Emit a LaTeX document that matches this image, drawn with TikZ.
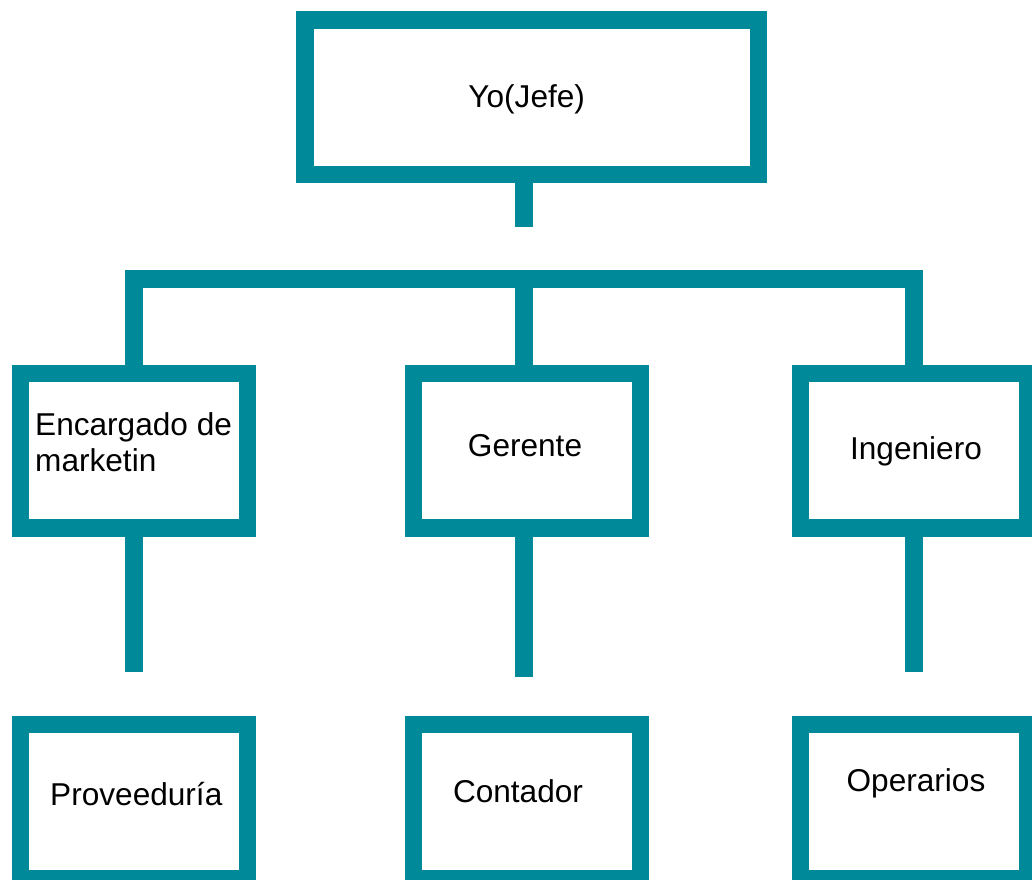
\documentclass[tikz,border=0pt]{standalone}
\usepackage{fontspec}
\setmainfont{Liberation Sans}
\definecolor{orgteal}{RGB}{0,138,153}
\begin{document}
\begin{tikzpicture}[x=1pt,y=-1pt,
  box/.style={draw=orgteal, line width=17.5pt, rectangle, inner sep=0pt,
    minimum width=226.75pt, minimum height=154.5pt, fill=white},
  conn/.style={draw=orgteal, line width=17.5pt, line cap=butt, line join=miter},
  lbl/.style={font=\fontsize{31.6}{36.7}\selectfont, anchor=base, inner sep=0pt, text=black}]
\useasboundingbox (0,0) rectangle (1032,879);
% boxes
\node[box, minimum width=453.5pt] (jefe) at (531.5,97) {};
\node[box] (mkt)  at (133.9,450.5) {};
\node[box] (ger)  at (527.1,450.5) {};
\node[box] (ing)  at (914,450.5) {};
\node[box] (prov) at (133.9,801.6) {};
\node[box] (cont) at (527.1,801.6) {};
\node[box] (oper) at (914,801.6) {};
% connector coordinates
\coordinate (c0) at (524,227);
\coordinate (barL) at (133.9,279);
\coordinate (barM) at (524,279);
\coordinate (barR) at (914,279);
\coordinate (s1) at (133.9,671.7);
\coordinate (s2) at (524,677.3);
\coordinate (s3) at (914,671.7);
% connectors
\draw[conn] (jefe.south -| c0) -- (c0);
\draw[conn] (mkt.north) -- (barL) -- (barR) -- (ing.north);
\draw[conn] (barM) -- (ger.north -| barM);
\draw[conn] (mkt.south) -- (s1);
\draw[conn] (ger.south -| s2) -- (s2);
\draw[conn] (ing.south) -- (s3);
% labels
\node[lbl] (tjefe) at (526.7,107) {Yo(Jefe)};
\node[lbl, anchor=base west, align=left] (tmkt) at (35,471.7) {Encargado de\\marketin};
\node[lbl] (tger) at (525,456.7) {Gerente};
\node[lbl] (ting) at (916,459) {Ingeniero};
\node[lbl] (tprov) at (136.3,805.7) {Proveeduría};
\node[lbl] (tcont) at (518,802.7) {Contador};
\node[lbl] (toper) at (916,791.7) {Operarios};
\end{tikzpicture}
\end{document}
